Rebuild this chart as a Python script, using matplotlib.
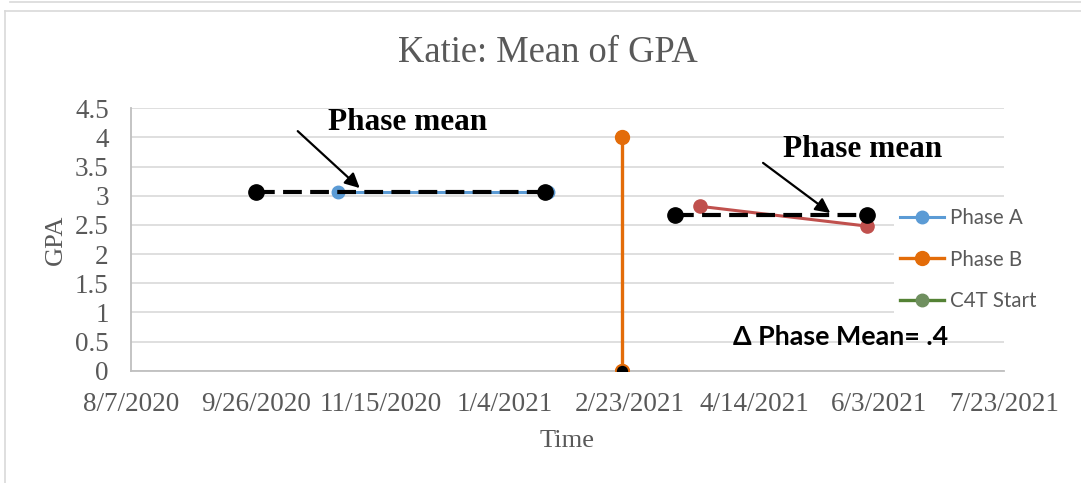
"""Katie: Mean of GPA -- phase A / phase B chart with phase means."""

from datetime import date, timedelta

import matplotlib

matplotlib.use("Agg")
import matplotlib.dates as mdates
import matplotlib.pyplot as plt
from matplotlib.lines import Line2D

# data
phase_a_dates = ["2020-10-29", "2021-01-21"]
phase_a_gpa = [3.07, 3.07]
phase_b_dates = ["2021-03-23", "2021-05-29"]
phase_b_gpa = [2.82, 2.48]
mean_a_dates = ["2020-09-26", "2021-01-20"]
mean_a_gpa = [3.07, 3.07]
mean_b_dates = ["2021-03-13", "2021-05-29"]
mean_b_gpa = [2.67, 2.67]
phase_change_dates = ["2021-02-20", "2021-02-20"]
phase_change_gpa = [4, 0]

x_start = date(2020, 8, 7)
x_end = date(2021, 7, 23)
tick_step_days = 50
y_ticks = [0, 0.5, 1, 1.5, 2, 2.5, 3, 3.5, 4, 4.5]

GRAY_TEXT = "#595959"
SERIF = ["Liberation Serif", "DejaVu Serif"]
SANS = ["Lato", "DejaVu Sans"]


def to_num(ds):
    return mdates.datestr2num(ds)


fig = plt.figure(figsize=(10.81, 4.83), dpi=100)
ax = fig.add_axes([131 / 1081, 1 - 370.7 / 483, 873 / 1081, 262.4 / 483])

# chart frame (light grey box as in the screenshot)
frame = dict(color="#d9d9d9", lw=1.2, transform=fig.transFigure, clip_on=False)
fig.add_artist(Line2D([10 / 1081, 1], [1 - 1.5 / 483] * 2, **frame))
fig.add_artist(Line2D([5 / 1081, 1], [1 - 11 / 483] * 2, **frame))
fig.add_artist(Line2D([5 / 1081] * 2, [0, 1 - 11 / 483], **frame))

# series
blue, = ax.plot(to_num(phase_a_dates), phase_a_gpa, color="#5b9bd5", lw=2.2,
                marker="o", ms=9, zorder=2)
ax.plot(to_num(mean_a_dates), mean_a_gpa, color="black", lw=3,
        dashes=(4.5, 2), marker="o", ms=11, zorder=3)
ax.plot(to_num(mean_b_dates), mean_b_gpa, color="black", lw=3,
        dashes=(4.5, 2), marker="o", ms=11, zorder=3)
ax.plot(to_num(phase_b_dates), phase_b_gpa, color="#c0504d", lw=2.2,
        marker="o", ms=9.5, zorder=2.5)
orange, = ax.plot(to_num(phase_change_dates), phase_change_gpa, color="#e36c09",
                  lw=2.4, marker="o", ms=10, zorder=2)
ax.plot(to_num(phase_change_dates[-1:]), phase_change_gpa[-1:], "o", ms=9.5,
        mfc="black", mec="#e36c09", mew=1.3, zorder=4)

# axes styling
ticks = []
d = x_start
while d <= x_end:
    ticks.append(d)
    d += timedelta(days=tick_step_days)
ax.set_xticks(mdates.date2num(ticks))
ax.set_xticklabels([f"{t.month}/{t.day}/{t.year}" for t in ticks])
ax.set_xlim(mdates.date2num(x_start), mdates.date2num(x_end))
ax.set_ylim(0, 4.5)
ax.set_yticks(y_ticks)
ax.set_yticklabels([f"{v:g}" for v in y_ticks])
ax.grid(axis="y", color="#d9d9d9", lw=1.2)
ax.set_axisbelow(True)
for s in ("top", "right"):
    ax.spines[s].set_visible(False)
for s in ("left", "bottom"):
    ax.spines[s].set_color("#bfbfbf")
    ax.spines[s].set_linewidth(1.3)
ax.tick_params(length=0, labelsize=19.5, labelcolor=GRAY_TEXT)
ax.tick_params(axis="x", pad=15)
ax.tick_params(axis="y", pad=16)
for lab in ax.get_xticklabels() + ax.get_yticklabels():
    lab.set_family(SERIF)

ax.set_xlabel("Time", family=SERIF, fontsize=19, color=GRAY_TEXT, labelpad=10)
ax.set_ylabel("GPA", family=SERIF, fontsize=19, color=GRAY_TEXT, labelpad=6)
fig.text(0.507, 1 - 53 / 483, "Katie: Mean of GPA", family=SERIF, fontsize=26.3,
         color=GRAY_TEXT, ha="center", va="center")

# annotations
arrow = dict(arrowstyle="-|>", mutation_scale=22, lw=1.6, color="black",
             shrinkA=0, shrinkB=0)
ax.text(0.3167, 0.945, "Phase mean", transform=ax.transAxes, family=SERIF,
        fontsize=22.5, fontweight="bold", ha="center", va="center")
ax.annotate("", xy=(0.262, 0.696), xytext=(0.191, 0.913),
            xycoords="axes fraction", arrowprops=arrow)
ax.text(0.838, 0.842, "Phase mean", transform=ax.transAxes, family=SERIF,
        fontsize=22.5, fontweight="bold", ha="center", va="center")
ax.annotate("", xy=(0.801, 0.601), xytext=(0.724, 0.792),
            xycoords="axes fraction", arrowprops=arrow)
ax.text(0.8127, 0.128, "\u0394 Phase Mean= .4", transform=ax.transAxes,
        family=SANS, fontsize=19.3, fontweight="bold", ha="center", va="center")

# legend
c4t = Line2D([], [], color="#548235", lw=2.4, marker="o", ms=9, mfc="#6f8f5f",
             mec="#6f8f5f")
leg = fig.legend([blue, orange, c4t], ["Phase A", "Phase B", "C4T Start"],
                 loc="upper left", bbox_to_anchor=(884 / 1081, 1 - 192 / 483),
                 frameon=True, facecolor="white", edgecolor="none", framealpha=1,
                 prop={"family": SANS, "size": 14.8}, handlelength=2.1,
                 handletextpad=0.3, labelspacing=1.03, borderpad=0.3,
                 fancybox=False)
for t in leg.get_texts():
    t.set_color(GRAY_TEXT)

fig.savefig("out.png", dpi=100)
